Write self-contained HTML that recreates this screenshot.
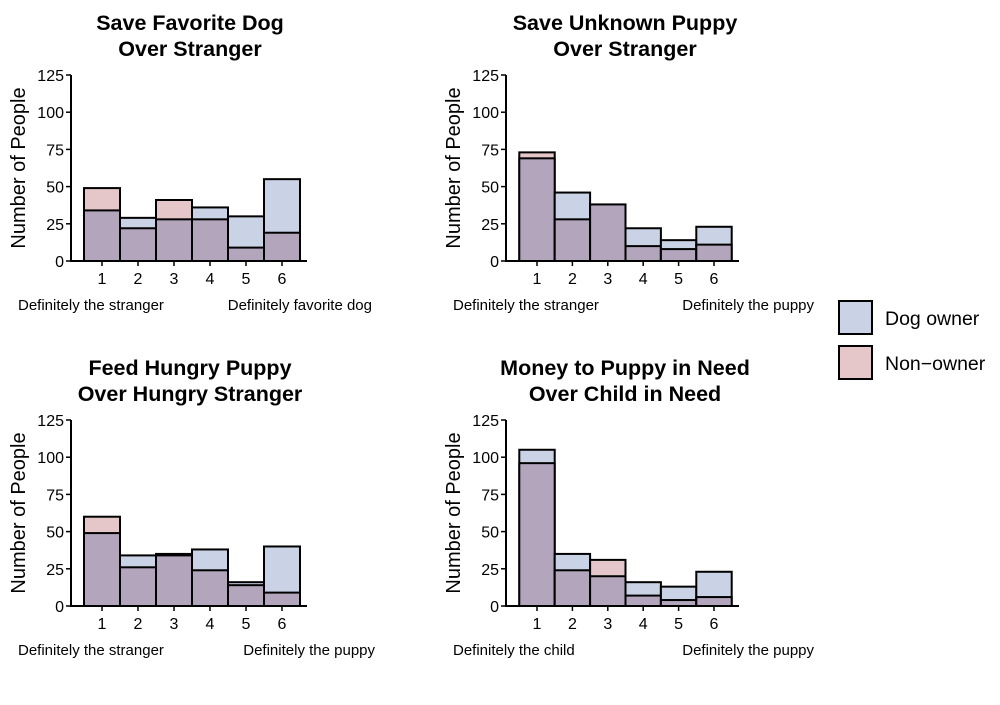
<!DOCTYPE html>
<html><head><meta charset="utf-8"><style>
body{margin:0;background:#fff;font-family:"Liberation Sans",Arial,sans-serif}
svg text{font-family:"Liberation Sans",Arial,sans-serif}
</style></head><body>
<svg id="c" width="1000" height="700" xmlns="http://www.w3.org/2000/svg"></svg>
<script>
const categories=[1,2,3,4,5,6];
const yTicks=[0,25,50,75,100,125];
const titles=[["Save Favorite Dog","Over Stranger"],["Save Unknown Puppy","Over Stranger"],["Feed Hungry Puppy","Over Hungry Stranger"],["Money to Puppy in Need","Over Child in Need"]];
const leftLabels=["Definitely the stranger","Definitely the stranger","Definitely the stranger","Definitely the child"];
const rightLabels=["Definitely favorite dog","Definitely the puppy","Definitely the puppy","Definitely the puppy"];
const owner1=[34,29,28,36,30,55], non1=[49,22,41,28,9,19];
const owner2=[69,46,38,22,14,23], non2=[73,28,38,10,8,11];
const owner3=[49,34,34,38,16,40], non3=[60,26,35,24,14,9];
const owner4=[105,35,20,16,13,23], non4=[96,24,31,7,4,6];
const owners=[owner1,owner2,owner3,owner4], nons=[non1,non2,non3,non4];
const panels=[{ax:71,c1:102,sp:36,y0:261,tx:190,ty:22,rx:372},{ax:506,c1:537,sp:35.4,y0:261,tx:625,ty:22,rx:814},{ax:71,c1:102,sp:36,y0:606,tx:190,ty:367,rx:375},{ax:506,c1:537,sp:35.4,y0:606,tx:625,ty:367,rx:814}];
const svg=document.getElementById('c');const NS="http://www.w3.org/2000/svg";
function mk(t,a,txt){const e=document.createElementNS(NS,t);for(const k in a)e.setAttribute(k,a[k]);if(txt!=null)e.textContent=txt;svg.appendChild(e);return e;}
const BLUE="#c9d3e5",PINK="#e5c6c9",MIX="#b3a6bc";
panels.forEach((p,i)=>{
 const ys=v=>p.y0-v*1.488;const xs=c=>p.c1+(c-1)*p.sp;
 titles[i].forEach((l,j)=>{const t=mk('text',{x:p.tx,y:p.ty+j*26+8,'text-anchor':'middle','font-size':21.5,'font-weight':'bold'},l);
 });
 const yl=mk('text',{x:0,y:0,transform:`translate(${p.ax-46},${p.y0-93}) rotate(-90)`,'text-anchor':'middle','font-size':20},'Number of People');
 
 categories.forEach((c,k)=>{
  const o=owners[i][k],n=nons[i][k];const x=xs(c)-p.sp/2,w=p.sp;
  const big=Math.max(o,n),small=Math.min(o,n);
  const b=mk('rect',{x,y:ys(big),width:w,height:ys(0)-ys(big),fill:o>=n?BLUE:PINK,stroke:'#000','stroke-width':2});
  
  const s=mk('rect',{x,y:ys(small),width:w,height:ys(0)-ys(small),fill:MIX,stroke:'#000','stroke-width':2});
  
  mk('line',{x1:xs(c),x2:xs(c),y1:p.y0,y2:p.y0+5,stroke:'#000','stroke-width':1.5});
  const tl=mk('text',{x:xs(c),y:p.y0+23,'text-anchor':'middle','font-size':16},c);
  
 });
 mk('line',{x1:p.ax,x2:p.ax,y1:ys(125),y2:p.y0+1,stroke:'#000','stroke-width':2});
 mk('line',{x1:p.ax-1,x2:xs(6)+25,y1:p.y0,y2:p.y0,stroke:'#000','stroke-width':2});
 yTicks.forEach(v=>{mk('line',{x1:p.ax-5,x2:p.ax,y1:ys(v),y2:ys(v),stroke:'#000','stroke-width':1.5});
  const t=mk('text',{x:p.ax-7,y:ys(v)+6,'text-anchor':'end','font-size':16},v);
  });
 const a=mk('text',{x:p.ax-53,y:p.y0+49,'font-size':15},leftLabels[i]);
 const b2=mk('text',{x:p.rx,y:p.y0+49,'font-size':15,'text-anchor':'end'},rightLabels[i]);
});
const l1=mk('rect',{x:839,y:301,width:33,height:33,fill:BLUE,stroke:'#000','stroke-width':2});
const l2=mk('rect',{x:839,y:346,width:33,height:33,fill:PINK,stroke:'#000','stroke-width':2});
const t1=mk('text',{x:885,y:325,'font-size':19.5},'Dog owner');
const t2=mk('text',{x:885,y:370,'font-size':19.5},'Non\u2212owner');
</script>
</body></html>
